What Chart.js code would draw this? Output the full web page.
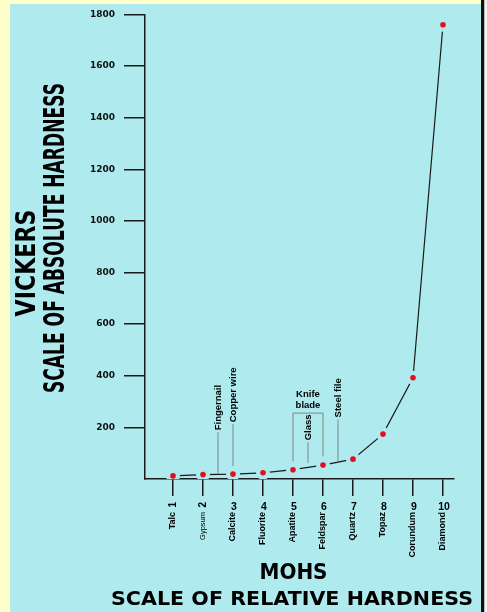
<!DOCTYPE html>
<html>
<head>
<meta charset="utf-8">
<script src="https://cdn.jsdelivr.net/npm/chart.js@4.4.0/dist/chart.umd.min.js"></script>
<style>
  html, body { margin: 0; padding: 0; background: #ffffcc; }
  #wrap { width: 487px; height: 612px; }
</style>
</head>
<body>
<div id="wrap"><canvas id="hardnessChart" width="487" height="612"></canvas></div>
<script>
// Mohs scale vs Vickers hardness
const mohsScale = [1, 2, 3, 4, 5, 6, 7, 8, 9, 10];
const mineralNames = ['Talc', 'Gypsum', 'Calcite', 'Fluorite', 'Apatite', 'Feldspar', 'Quartz', 'Topaz', 'Corundum', 'Diamond'];
const vickersValues = [12, 17, 19, 24, 36, 54, 77, 174, 392, 1760];
const vickersTicks = [200, 400, 600, 800, 1000, 1200, 1400, 1600, 1800];

// everyday objects marked between the minerals (mohs position, leader top / bottom in vickers)
const refNames = ['Fingernail', 'Copper wire', 'Glass', 'Steel file'];
const refMohs = [2.5, 3, 5.5, 6.5];
const refTop = [181, 212, 142, 231];
const refBottom = [19, 50, 62, 69];
// knife blade bracket spans mohs 5 to 6
const knifeMohs = [5, 6];
const knifeTop = 255;
const knifeBottom = [69, 88];

const panelColor = '#aeeaee';
const ink = '#1a1a1a';
const leaderColor = '#8a9c9e';

const points = mohsScale.map((m, i) => ({ x: m, y: vickersValues[i] }));

// draw text squeezed into a given box (length along the text, cap height)
function fitText(c, text, cx, cy, len, cap, angle) {
  c.save();
  c.font = 'bold 100px "DejaVu Sans", sans-serif';
  const w = c.measureText(text).width;
  c.translate(cx, cy);
  c.rotate(angle);
  c.scale(len / w, cap / 72.9);
  c.textAlign = 'center';
  c.textBaseline = 'alphabetic';
  c.fillStyle = '#000';
  c.fillText(text, 0, 36.45);
  c.restore();
}

function upText(c, text, x, yEnd, font, align) {
  c.save();
  c.translate(x, yEnd);
  c.rotate(-Math.PI / 2);
  c.font = font;
  c.textAlign = align || 'left';
  c.textBaseline = 'middle';
  c.fillStyle = '#000';
  c.fillText(text, 0, 0);
  c.restore();
}

const panelPlugin = {
  id: 'panel',
  beforeDraw(chart) {
    const c = chart.ctx;
    c.save();
    c.fillStyle = '#ffffcc';
    c.fillRect(0, 0, 487, 612);
    c.fillStyle = panelColor;
    c.fillRect(10, 4, 472, 608);
    c.fillStyle = '#111';
    c.fillRect(481, 0, 3.5, 612);
    c.fillStyle = '#f4f4f4';
    c.fillRect(484.5, 0, 3, 612);
    c.restore();
  }
};

const textPlugin = {
  id: 'texts',
  afterDraw(chart) {
    const c = chart.ctx;
    const xs = chart.scales.x;
    const ys = chart.scales.y;

    // axis titles
    fitText(c, 'VICKERS', 25, 263, 107, 20, -Math.PI / 2);
    fitText(c, 'SCALE OF ABSOLUTE HARDNESS', 53.5, 238, 310, 20.5, -Math.PI / 2);
    fitText(c, 'MOHS', 293.5, 571, 68, 15.4, 0);
    fitText(c, 'SCALE OF RELATIVE HARDNESS', 292, 598, 362, 14, 0);

    // mineral labels under the ticks
    const top = xs.top + 23;
    mohsScale.forEach((m, i) => {
      const x = xs.getPixelForValue(m);
      if (i < 2) {
        upText(c, String(m), x, top, 'bold 10px "Liberation Sans", Arial', 'right');
        const f = i === 1 ? '7.5px "Liberation Sans", Arial' : 'bold 9px "Liberation Sans", Arial';
        upText(c, mineralNames[i], x, top + 10, f, 'right');
      } else {
        c.save();
        c.font = 'bold 10.5px "Liberation Sans", Arial';
        c.textAlign = 'center';
        c.textBaseline = 'top';
        c.fillStyle = '#000';
        c.fillText(String(m), x + 1, top);
        c.restore();
        upText(c, mineralNames[i], x, top + 10, 'bold 9px "Liberation Sans", Arial', 'right');
      }
    });

    // reference leaders and labels
    c.save();
    c.strokeStyle = leaderColor;
    c.lineWidth = 1.3;
    refNames.forEach((name, i) => {
      const x = xs.getPixelForValue(refMohs[i]);
      const y1 = ys.getPixelForValue(refTop[i]);
      const y2 = ys.getPixelForValue(refBottom[i]);
      c.beginPath();
      c.moveTo(x, y1);
      c.lineTo(x, y2);
      c.stroke();
      upText(c, name, x, y1 - 2, 'bold 9.5px "Liberation Sans", Arial', 'left');
    });
    const kx1 = xs.getPixelForValue(knifeMohs[0]);
    const kx2 = xs.getPixelForValue(knifeMohs[1]);
    const ky = ys.getPixelForValue(knifeTop);
    c.beginPath();
    c.moveTo(kx1, ys.getPixelForValue(knifeBottom[0]));
    c.lineTo(kx1, ky);
    c.lineTo(kx2, ky);
    c.lineTo(kx2, ys.getPixelForValue(knifeBottom[1]));
    c.stroke();
    c.font = 'bold 9.5px "Liberation Sans", Arial';
    c.textAlign = 'center';
    c.textBaseline = 'middle';
    c.fillStyle = '#000';
    c.fillText('Knife', (kx1 + kx2) / 2, ky - 19);
    c.fillText('blade', (kx1 + kx2) / 2, ky - 8);
    c.restore();
  }
};

new Chart(document.getElementById('hardnessChart'), {
  type: 'line',
  data: {
    datasets: [
      {
        // red mineral dots
        data: points,
        showLine: false,
        pointRadius: 2.8,
        pointBackgroundColor: '#e3101c',
        pointBorderWidth: 0
      },
      {
        // connecting line; its points are painted in panel colour to leave gaps
        data: points,
        borderColor: ink,
        borderWidth: 1.2,
        tension: 0,
        pointRadius: 7,
        pointBackgroundColor: panelColor,
        pointBorderWidth: 0
      }
    ]
  },
  options: {
    responsive: false,
    animation: false,
    events: [],
    layout: { padding: { top: 11, right: 33, bottom: 0, left: 0 } },
    plugins: { legend: { display: false }, tooltip: { enabled: false } },
    scales: {
      x: {
        type: 'linear',
        min: 0.067,
        max: 10.367,
        z: 1,
        afterBuildTicks: s => { s.ticks = mohsScale.map(v => ({ value: v })); },
        afterFit: s => { s.height = 133; },
        ticks: { display: false },
        grid: { drawOnChartArea: false, tickLength: 17, color: ink, lineWidth: 1.5 },
        border: { color: ink, width: 1.5 }
      },
      y: {
        type: 'linear',
        min: 0,
        max: 1800,
        z: 1,
        afterBuildTicks: s => { s.ticks = vickersTicks.map(v => ({ value: v })); },
        afterFit: s => { s.width = 145; },
        ticks: {
          color: '#111',
          padding: 9,
          font: { family: 'DejaVu Sans', weight: 'bold', size: 9 },
          callback: v => String(v)
        },
        grid: { drawOnChartArea: false, tickLength: 21, color: ink, lineWidth: 1.5 },
        border: { color: ink, width: 1.5 }
      }
    }
  },
  plugins: [panelPlugin, textPlugin]
});
</script>
</body>
</html>
